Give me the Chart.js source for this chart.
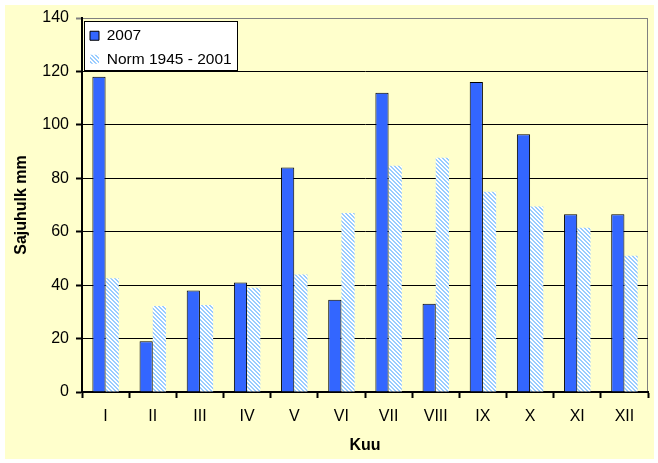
<!DOCTYPE html>
<html>
<head>
<meta charset="utf-8">
<script src="https://cdn.jsdelivr.net/npm/chart.js@4.4.0/dist/chart.umd.min.js"></script>
<style>
html, body { margin: 0; padding: 0; background: #fff; }
</style>
</head>
<body>
<canvas id="myChart" width="658" height="463"></canvas>
<script>
// data
const months = ['I', 'II', 'III', 'IV', 'V', 'VI', 'VII', 'VIII', 'IX', 'X', 'XI', 'XII'];
const rain2007 = [118, 19, 38, 41, 84, 34.5, 112, 33, 116, 96.5, 66.5, 66.5];
const rainNorm = [42.6, 32.2, 32.6, 39, 44, 67, 84.7, 87.7, 75, 69.4, 61.5, 51];
const seriesNames = ['2007', 'Norm 1945 - 2001'];
const yMin = 0, yMax = 140, yStep = 20;

const FONT = '"Liberation Sans", Arial, sans-serif';

let ctx = document.getElementById('myChart').getContext('2d');

// light blue diagonal hatch like the excel fill
function makeHatch() {
    let c = document.createElement('canvas');
    c.width = 4; c.height = 4;
    let g = c.getContext('2d');
    g.fillStyle = '#ffffff';
    g.fillRect(0, 0, 4, 4);
    g.fillStyle = '#99ccff';
    for (let i = 0; i < 4; i++) {
        g.fillRect(i, i, 1, 1);
        g.fillRect((i + 1) % 4, i, 1, 1);
    }
    return ctx.createPattern(c, 'repeat');
}

const backdrop = {
    id: 'backdrop',
    afterLayout(chart) {
        // put the legend inside the plot, top left
        let a = chart.chartArea;
        let lg = chart.legend;
        lg.left = a.left;
        lg.top = a.top + 2;
        lg.bottom = a.bottom;
        lg.right = a.right;
    },
    beforeDraw(chart) {
        let c = chart.ctx;
        let a = chart.chartArea;
        c.save();
        c.fillStyle = '#ffffff';
        c.fillRect(0, 0, chart.width, chart.height);
        c.fillStyle = '#ffffcc';
        c.fillRect(5, 5, chart.width - 9, chart.height - 9);
        // grey frame top + right of plot
        c.strokeStyle = '#808080';
        c.lineWidth = 1;
        c.beginPath();
        c.moveTo(a.left, a.top + 0.5);
        c.lineTo(a.right - 0.5, a.top + 0.5);
        c.lineTo(a.right - 0.5, a.bottom);
        c.stroke();
        // legend box
        c.fillStyle = '#ffffff';
        c.fillRect(a.left + 2, a.top + 3, 153, 49);
        c.strokeStyle = '#000000';
        c.strokeRect(a.left + 2.5, a.top + 3.5, 153, 49);
        c.restore();
    }
};

let myChart = new Chart(ctx, {
    type: 'bar',
    data: {
        labels: months,
        datasets: [{
            label: seriesNames[0],
            data: rain2007,
            backgroundColor: '#3366ff',
            borderColor: '#000000',
            borderWidth: 1,
            borderSkipped: 'bottom'
        }, {
            label: seriesNames[1],
            data: rainNorm,
            backgroundColor: makeHatch(),
            borderWidth: 0
        }]
    },
    options: {
        responsive: false,
        animation: false,
        devicePixelRatio: 1,
        categoryPercentage: 0.56,
        barPercentage: 1,
        layout: { padding: { top: 18, right: 10, left: 0, bottom: 0 } },
        plugins: {
            tooltip: { enabled: false },
            legend: {
                position: 'chartArea',
                align: 'start',
                labels: {
                    color: '#000',
                    font: { family: FONT, size: 15.5 },
                    boxWidth: 9,
                    boxHeight: 9,
                    padding: 8
                }
            }
        },
        scales: {
            x: {
                grid: {
                    drawOnChartArea: false,
                    color: '#000',
                    tickLength: 6,
                    tickWidth: 2
                },
                border: { color: '#000', width: 2 },
                ticks: {
                    color: '#000',
                    font: { family: FONT, size: 16 },
                    padding: 9,
                    maxRotation: 0
                },
                title: {
                    display: true,
                    text: 'Kuu',
                    color: '#000',
                    font: { family: FONT, size: 16, weight: 'bold' },
                    padding: { top: 0, bottom: 8 }
                },
                afterFit(s) { s.height = 71; }
            },
            y: {
                min: yMin,
                max: yMax,
                grid: {
                    color: (c) => c.tick && c.tick.value === yMax ? '#808080' : '#000',
                    tickLength: 6,
                    tickWidth: 2
                },
                border: { color: '#000', width: 2 },
                ticks: {
                    stepSize: yStep,
                    color: '#000',
                    font: { family: FONT, size: 16 },
                    padding: 7
                },
                title: {
                    display: true,
                    text: 'Sajuhulk mm',
                    color: '#000',
                    font: { family: FONT, size: 16, weight: 'bold' },
                    padding: { top: 12, bottom: 0 }
                },
                afterFit(s) { s.width = 82; }
            }
        }
    },
    plugins: [backdrop]
});
</script>
</body>
</html>
